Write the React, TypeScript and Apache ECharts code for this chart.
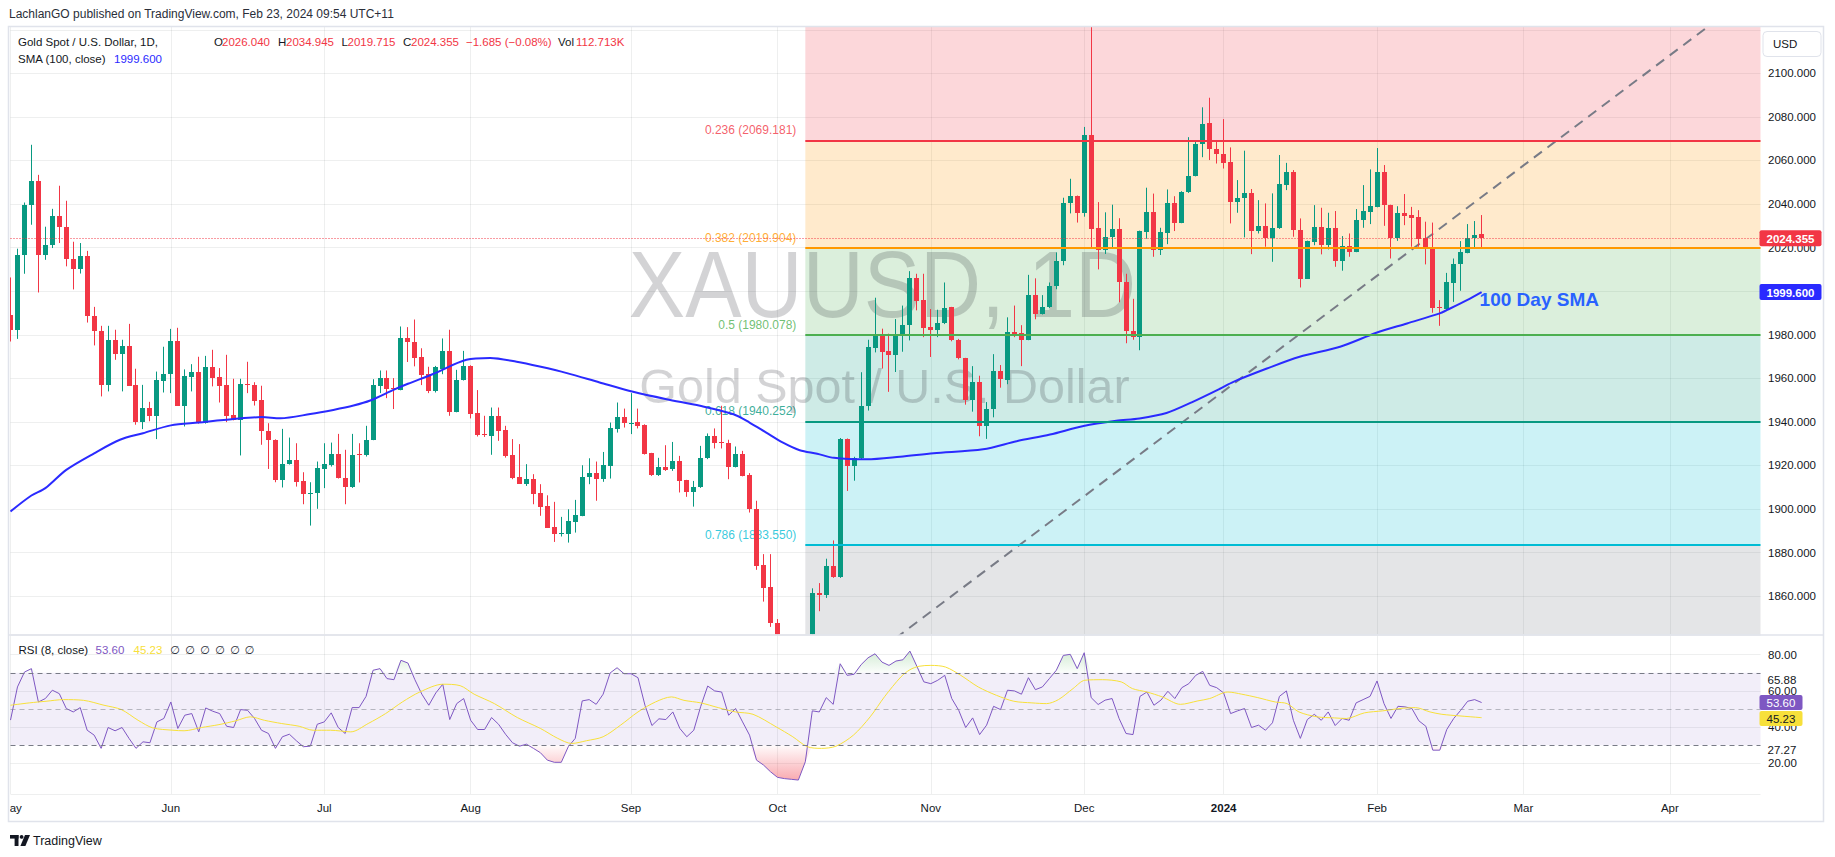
import React, { useEffect, useRef } from 'react';
import * as echarts from 'echarts';

// ---------------- data ----------------
const opens = [1989.2,1982.0,2016.4,2039.4,2050.7,2016.4,2021.0,2034.6,2029.6,2014.7,2010.4,2016.2,1988.7,1981.8,1957.0,1977.7,1971.1,1974.9,1957.0,1939.9,1946.6,1942.5,1959.0,1961.9,1977.2,1947.5,1960.8,1963.1,1939.4,1965.3,1960.4,1957.0,1943.2,1940.9,1957.6,1957.0,1950.1,1935.9,1931.8,1913.1,1920.6,1922.6,1912.9,1907.0,1907.3,1918.5,1920.3,1925.3,1914.2,1909.9,1925.1,1924.6,1931.8,1956.7,1960.1,1955.5,1954.7,1978.4,1976.8,1969.6,1961.9,1954.3,1964.5,1972.6,1944.6,1959.2,1965.7,1944.0,1934.6,1933.6,1942.8,1936.2,1924.7,1914.5,1911.4,1913.7,1907.3,1901.5,1891.8,1888.6,1888.4,1894.1,1896.9,1914.8,1916.5,1913.7,1919.8,1936.7,1942.2,1939.4,1940.0,1938.6,1925.6,1915.5,1919.1,1918.3,1922.1,1913.2,1907.9,1909.9,1923.3,1933.3,1930.8,1930.5,1919.4,1925.2,1915.5,1900.2,1874.2,1864.0,1847.8,1828.0,1822.0,1821.0,1820.0,1835.0,1861.5,1860.4,1873.8,1868.6,1932.2,1919.6,1923.2,1947.5,1973.9,1980.5,1972.6,1970.8,1979.2,1984.4,2006.1,1995.9,1983.6,1982.1,1985.5,1992.6,1977.8,1969.2,1949.9,1958.2,1938.1,1945.7,1963.2,1959.3,1981.3,1980.8,1977.7,1998.2,1989.6,1992.7,2002.5,2013.8,2040.6,2043.7,2035.9,2071.5,2028.8,2018.9,2024.9,2028.4,2004.3,1981.7,1978.9,2027.3,2036.2,2018.9,2026.8,2040.4,2031.5,2045.6,2053.0,2067.7,2077.3,2065.1,2062.9,2059.1,2041.0,2043.0,2045.3,2027.7,2029.9,2024.2,2028.8,2048.9,2054.7,2028.3,2005.8,2022.7,2029.6,2021.1,2029.1,2013.9,2020.8,2018.1,2032.6,2036.5,2038.7,2054.7,2039.5,2024.5,2036.0,2035.1,2034.1,2024.2,2019.9,1992.6,1991.6,2003.8,2012.7,2017.6,2024.2,2026.04];
const highs = [2006.3,2019.5,2040.7,2067.2,2053.4,2029.6,2037.8,2048.4,2041.5,2022.7,2022.1,2018.5,1992.8,1984.1,1984.1,1982.3,1977.7,1985.0,1964.4,1957.0,1949.2,1963.1,1974.5,1982.7,1983.2,1964.1,1966.5,1969.9,1970.3,1973.1,1964.7,1970.8,1959.8,1959.8,1967.6,1958.2,1956.6,1939.4,1932.0,1936.8,1932.8,1930.2,1916.9,1912.3,1921.8,1930.2,1930.5,1934.5,1927.2,1934.5,1930.2,1938.2,1959.6,1963.6,1963.6,1960.1,1983.8,1983.5,1987.0,1973.8,1965.3,1965.7,1978.3,1982.3,1963.9,1972.6,1966.0,1954.6,1942.8,1946.6,1946.6,1938.2,1932.1,1929.8,1920.6,1916.0,1911.4,1906.3,1903.3,1896.4,1899.9,1904.2,1920.1,1923.3,1921.8,1926.2,1939.7,1948.9,1946.1,1953.2,1946.1,1938.9,1925.8,1923.5,1929.3,1930.8,1924.4,1913.4,1912.9,1929.0,1934.7,1937.0,1947.4,1931.8,1928.7,1926.7,1916.5,1903.8,1879.3,1879.3,1849.5,1830.0,1826.0,1826.0,1834.0,1863.6,1866.0,1877.2,1885.6,1932.6,1932.4,1924.0,1962.8,1977.7,1997.0,1982.8,1980.5,1987.2,1993.4,2009.2,2008.0,2008.0,1991.8,1991.5,2004.0,1992.8,1978.1,1969.4,1965.6,1961.2,1949.1,1971.1,1966.1,1988.0,1993.4,1984.4,2007.5,2005.9,1998.2,2004.0,2017.8,2042.9,2051.6,2043.9,2075.4,2135.0,2040.9,2036.2,2039.7,2033.5,2008.0,1996.5,2027.8,2047.5,2044.8,2029.1,2046.7,2043.6,2045.9,2070.7,2069.2,2084.4,2088.8,2069.4,2079.0,2066.0,2051.0,2064.5,2046.9,2041.8,2040.3,2044.9,2062.5,2058.9,2055.6,2033.4,2023.2,2039.5,2038.3,2036.0,2036.8,2025.3,2026.5,2037.7,2048.7,2055.9,2065.7,2057.9,2039.7,2039.0,2044.6,2038.7,2037.2,2031.9,2031.5,1995.9,2008.4,2015.0,2023.0,2030.8,2032.2,2034.945];
const lows = [1976.9,1978.1,2008.0,2030.5,1999.4,2014.4,2019.8,2022.1,2011.4,2000.8,2008.1,1985.6,1975.1,1951.7,1954.0,1968.5,1954.0,1956.5,1938.7,1936.7,1940.3,1932.1,1953.5,1953.2,1947.3,1937.9,1954.0,1939.2,1939.2,1956.3,1948.9,1939.9,1940.7,1924.6,1953.2,1947.5,1929.5,1918.4,1912.3,1909.9,1920.4,1910.3,1902.2,1892.4,1900.1,1909.6,1919.5,1914.0,1902.2,1909.7,1912.2,1924.1,1931.6,1953.2,1950.9,1945.9,1954.5,1967.5,1965.5,1956.9,1953.2,1953.5,1961.9,1942.8,1944.4,1959.0,1941.6,1933.3,1933.1,1924.9,1931.3,1923.6,1913.7,1911.5,1910.6,1902.2,1896.9,1891.3,1884.9,1887.4,1884.6,1889.2,1896.7,1911.4,1903.8,1912.5,1914.0,1935.1,1937.4,1934.4,1937.0,1925.0,1915.2,1915.2,1917.5,1917.5,1907.6,1905.6,1901.1,1909.7,1922.9,1927.8,1927.8,1913.7,1919.1,1915.0,1898.4,1872.1,1857.5,1845.9,1825.0,1815.0,1816.0,1813.0,1810.5,1832.0,1853.1,1859.2,1868.4,1868.4,1908.3,1913.0,1922.8,1945.2,1971.9,1964.5,1953.8,1962.9,1972.2,1977.4,1991.2,1978.9,1969.8,1978.9,1984.9,1977.0,1968.7,1947.9,1944.7,1933.4,1932.2,1942.1,1955.7,1957.3,1978.9,1965.6,1977.5,1987.1,1989.3,1992.3,2000.9,2011.9,2035.7,2031.5,2034.2,2020.0,2010.0,2017.1,2020.0,1994.9,1976.1,1977.7,1972.9,2024.1,2015.8,2016.6,2021.6,2027.6,2031.2,2045.1,2052.7,2061.5,2060.2,2058.6,2056.3,2031.1,2036.0,2024.7,2017.0,2026.5,2020.4,2013.5,2028.6,2046.4,2025.0,2001.7,2005.6,2021.1,2016.9,2019.2,2011.2,2009.4,2015.8,2017.9,2029.1,2030.8,2038.5,2030.0,2015.0,2023.1,2030.3,2020.4,2020.4,2012.3,1990.1,1984.1,1990.8,1995.1,2000.2,2017.4,2019.9,2019.715];
const closes = [1982.0,2016.7,2039.7,2050.7,2016.4,2021.3,2034.6,2029.3,2014.6,2010.4,2016.2,1988.4,1981.5,1957.0,1977.7,1971.1,1974.9,1956.7,1939.9,1946.6,1942.5,1959.3,1962.1,1977.2,1947.5,1961.2,1963.1,1939.4,1965.3,1960.1,1956.7,1942.9,1940.9,1957.5,1957.3,1949.8,1935.6,1931.5,1913.1,1920.7,1922.6,1912.6,1906.8,1907.3,1918.8,1920.7,1925.3,1914.2,1909.9,1924.9,1924.7,1931.8,1957.0,1960.1,1955.0,1955.2,1978.4,1976.5,1969.3,1961.4,1954.0,1965.0,1972.6,1944.6,1959.2,1965.7,1943.8,1934.1,1934.0,1942.8,1935.9,1924.4,1914.2,1911.7,1913.7,1906.8,1901.0,1891.5,1888.4,1889.0,1894.3,1897.3,1914.9,1916.5,1913.7,1920.1,1937.1,1942.2,1939.4,1939.7,1938.2,1925.2,1915.5,1919.1,1918.0,1922.1,1912.9,1907.9,1910.3,1923.6,1933.6,1930.5,1930.2,1919.4,1925.2,1915.2,1899.9,1873.9,1863.7,1847.6,1828.0,1822.0,1821.0,1820.0,1832.0,1861.5,1860.4,1873.8,1868.6,1932.2,1919.6,1923.2,1947.5,1974.2,1980.5,1972.3,1970.8,1979.7,1984.4,2006.1,1995.7,1983.3,1982.1,1985.5,1992.3,1977.7,1969.2,1949.9,1958.2,1938.1,1946.0,1963.2,1959.8,1981.3,1980.2,1977.7,1998.2,1989.6,1992.7,2002.5,2013.8,2040.6,2043.7,2035.9,2071.5,2028.4,2018.9,2024.9,2028.4,2004.0,1981.6,1978.9,2027.6,2036.2,2018.9,2027.3,2040.4,2031.5,2045.6,2053.0,2067.6,2076.9,2065.1,2062.8,2058.9,2041.0,2043.0,2045.3,2027.7,2029.9,2024.2,2028.8,2049.1,2054.7,2028.3,2005.8,2023.0,2029.6,2021.1,2029.1,2013.9,2020.8,2018.1,2032.6,2036.8,2039.0,2054.7,2039.5,2024.5,2036.0,2034.5,2033.8,2024.0,2019.6,1992.4,1992.2,2004.0,2012.7,2017.8,2024.2,2025.7,2024.355];

// SMA(100) read at [bar index, value]
const smaPoints = [[0,1898.9],[3,1906.2],[5,1909.6],[8,1918.0],[12,1925.6],[15.7,1931.8],[19,1934.8],[23,1938.4],[27,1939.7],[32,1941.3],[36,1942.2],[38.7,1941.7],[43,1943.6],[46.3,1945.5],[49.2,1947.5],[51.6,1949.8],[55,1954.8],[57,1957.5],[60.6,1962.0],[65.4,1968.5],[68.8,1969.3],[72.6,1967.6],[75.9,1965.4],[79.8,1962.4],[84.5,1958.1],[89.3,1953.8],[94.1,1950.4],[98.9,1947.4],[103.7,1943.5],[106,1939.7],[108.4,1935.1],[110.8,1930.5],[113.2,1927.0],[115.7,1925.4],[118.1,1923.5],[122.8,1922.8],[127.6,1924.0],[132.4,1925.6],[139.5,1927.4],[144.3,1931.1],[149.1,1934.2],[153.9,1938.1],[158.6,1940.5],[161.9,1941.6],[165.8,1944.1],[169.5,1949.1],[173.4,1955.1],[175.4,1958.4],[180.2,1964.5],[184.9,1969.9],[190.7,1974.5],[195.9,1980.9],[200.3,1985.2],[205,1989.8],[206,1991.3],[208.9,1995.9],[211,1999.6]];

const rsiValues = [43.9,62.2,70.4,72.3,53.9,55.8,60.4,58.5,50.3,48.4,50.8,38.3,35.6,28.3,39.8,38.0,39.8,33.8,28.3,31.9,31.4,42.9,44.8,53.9,39.3,46.6,47.5,37.4,50.6,48.8,47.5,40.5,39.8,49.7,49.3,44.8,38.3,36.5,28.3,34.7,36.1,32.5,29.2,29.5,41.6,42.9,47.9,39.8,36.5,50.8,50.8,57.0,71.4,72.3,66.8,66.2,76.9,75.4,66.2,58.2,52.1,58.9,63.7,44.2,53.0,55.8,43.8,38.7,38.7,45.3,41.6,36.1,31.4,29.5,30.6,28.3,25.9,21.8,20.6,20.6,29.2,33.8,54.5,55.2,52.6,58.2,69.9,72.8,69.5,69.5,67.3,52.1,40.9,44.6,44.2,48.4,39.3,34.7,38.3,51.5,62.7,60.0,59.4,46.6,50.3,42.9,35.6,21.8,19.1,15.4,12.3,11.6,11.2,10.8,20.9,49.0,48.4,56.3,52.6,75.0,68.6,69.2,74.5,78.3,80.5,75.9,74.1,76.5,77.2,82.0,73.6,65.0,64.0,65.9,68.6,55.8,49.3,39.8,45.1,35.9,41.1,51.5,49.7,60.4,60.0,58.2,67.3,60.7,62.2,66.8,71.4,79.6,80.2,72.3,81.1,56.3,52.5,54.9,55.8,44.8,36.5,35.9,57.0,59.4,52.1,54.9,59.8,55.8,61.8,64.0,68.6,70.8,63.1,61.8,58.9,47.5,49.0,50.3,39.8,41.1,38.3,42.4,57.0,60.0,43.8,33.8,44.2,47.1,43.8,48.4,40.9,44.8,43.8,53.4,55.2,57.0,65.5,53.0,44.8,51.5,51.2,50.3,43.5,40.5,27.3,27.3,38.7,44.8,49.3,54.3,55.2,53.6];

// RSI-based MA read at [bar index, value]
const rsiMaPoints = [[0,52.1],[2.7,53.4],[5.1,54.3],[7.6,55.2],[10.5,54.8],[13.4,52.1],[15.9,49.7],[18.3,43.8],[20.4,39.6],[23.3,38.3],[24.9,38.0],[27.4,39.8],[29.9,41.4],[32.3,43.5],[34.4,45.7],[36.4,43.8],[38.9,42.0],[41.4,40.5],[43.4,38.3],[45.9,38.3],[48.8,37.4],[51.3,42.0],[53.8,47.5],[56.2,53.9],[58.7,59.4],[62,63.7],[64.5,62.9],[66.5,58.2],[69.4,53.0],[72.7,45.3],[76,39.3],[78.5,33.8],[80.5,31.0],[82.6,32.5],[85,34.7],[87.5,41.1],[90,48.4],[92.5,53.9],[94.8,56.7],[96.6,54.8],[99,53.4],[101.5,50.8],[104,48.4],[106.5,47.1],[109.8,40.2],[112.2,34.7],[114.3,29.2],[116.3,28.3],[118.4,29.5],[120.9,35.6],[123.3,45.7],[125.4,57.0],[127.7,67.7],[129,71.7],[130.3,73.6],[132,74.1],[134.1,73.2],[136.3,68.6],[138.8,62.2],[141.4,57.6],[143.9,54.3],[146.5,53.4],[148.6,53.0],[150.3,55.2],[152.4,61.3],[154.1,65.9],[156.6,66.2],[159.3,65.0],[160.9,61.3],[163,59.4],[165.2,56.7],[167.8,52.6],[170.3,54.5],[172,55.8],[174.6,59.4],[176.6,58.2],[178.9,56.3],[181.4,53.9],[183.1,53.0],[184.8,48.4],[187.4,45.7],[189.9,45.1],[191.6,44.8],[194.2,47.9],[196.8,49.0],[199.3,50.3],[201.5,50.8],[203.6,48.4],[205.3,47.1],[207.9,46.2],[210.8,45.3],[211,45.23]];

const fibRatios = [0.236, 0.382, 0.5, 0.618, 0.786];
const fibPrices = [2069.181, 2019.904, 1980.078, 1940.252, 1883.55];
const fibTopPrice = 2148.83;     // level 0
const fibBottomPrice = 1811.32;  // level 1
const fibStartBar = 114;
const trendAnchors = [[125, 1836.0], [250, 2137.2]];
const lastPrice = 2024.355;
const smaLast = 1999.6;
const rsiLast = 53.6;
const rsiMaLast = 45.23;
const rsiExtraLabels = [65.88, 27.27];
const holidays = ['2023-12-25', '2024-01-01'];
const rsiBands = [70, 50, 30];

// ---------------- styling ----------------
const FONT = "'Liberation Sans', Arial, sans-serif";
const TEXT = '#131722';
const GRID = 'rgba(42,46,57,0.08)';
const UP = '#089981';
const DOWN = '#f23645';
const SMA_COLOR = '#2a2aff';
const RSI_COLOR = '#7e57c2';
const RSI_MA_COLOR = '#f7e03a';
const FIB_COLORS = ['#f23645', '#ff9800', '#4caf50', '#089981', '#00bcd4', '#787b86'];
const Y_MIN = 1842.5, Y_MAX = 2121.5;
const R_MIN = 3.1, R_MAX = 90.6;
const X_MAX = 251;
const MONTHS = ['Jan','Feb','Mar','Apr','May','Jun','Jul','Aug','Sep','Oct','Nov','Dec'];

function buildTradingDays(start: string, count: number, skip: string[]): string[] {
  const out: string[] = [];
  const d = new Date(start + 'T00:00:00Z');
  while (out.length < count) {
    const dow = d.getUTCDay();
    const s = d.toISOString().slice(0, 10);
    if (dow !== 0 && dow !== 6 && skip.indexOf(s) < 0) out.push(s);
    d.setUTCDate(d.getUTCDate() + 1);
  }
  return out;
}

function hexA(hex: string, a: number) {
  const n = parseInt(hex.slice(1), 16);
  return `rgba(${(n >> 16) & 255},${(n >> 8) & 255},${n & 255},${a})`;
}

function txt(x: number, y: number, text: string, fill: string, size: number, extra: any = {}) {
  return {
    type: 'text', x, y, z: 50, silent: true,
    style: {
      text, fill, fontSize: size, fontFamily: FONT,
      align: 'left', verticalAlign: 'middle', textAlign: 'left', textVerticalAlign: 'middle',
      ...extra,
    },
  };
}

export default function App() {
  const ref = useRef<HTMLDivElement>(null);

  useEffect(() => {
    if (!ref.current) return;
    const chart = echarts.init(ref.current, null, { renderer: 'svg' });

    const dates = buildTradingDays('2023-05-01', X_MAX + 1, holidays);
    const axisLabelMap: Record<string, string> = {};
    const monthStart = new Set<number>();
    dates.forEach((s, i) => {
      const m = s.slice(5, 7);
      if (i === 0 || m !== dates[i - 1].slice(5, 7)) {
        monthStart.add(i);
        // the first month label is drawn separately (it is cut by the pane edge)
        axisLabelMap[s] = i === 0 ? '' : m === '01' ? '{b|' + s.slice(0, 4) + '}' : MONTHS[+m - 1];
      }
    });
    const firstMonthLabel = MONTHS[+dates[0].slice(5, 7) - 1];

    const candleData = opens.map((o, i) => [i, o, closes[i], lows[i], highs[i]]);

    const clampY = (v: number) => Math.max(Y_MIN, Math.min(Y_MAX, v));
    const levels = [fibTopPrice, ...fibPrices, fibBottomPrice];
    const zones = FIB_COLORS.map((c, k) => [
      { xAxis: fibStartBar, yAxis: clampY(levels[k]), itemStyle: { color: hexA(c, 0.2) } },
      { xAxis: X_MAX, yAxis: clampY(levels[k + 1]) },
    ]);
    const fibLines = fibPrices.map((p, k) => [
      { coord: [fibStartBar, p], lineStyle: { color: FIB_COLORS[k], width: 2, type: 'solid' } },
      { coord: [X_MAX, p] },
    ]);

    const catAxisBase = {
      type: 'category', data: dates, boundaryGap: false,
      axisLine: { show: false }, axisTick: { show: false },
      splitLine: { show: true, interval: (i: number) => monthStart.has(i), lineStyle: { color: GRID, width: 1 } },
    };

    const renderCandle = (params: any, api: any) => {
      const i = api.value(0);
      const o = api.value(1), c = api.value(2), l = api.value(3), h = api.value(4);
      const pO = api.coord([i, o]);
      const pC = api.coord([i, c]);
      const pL = api.coord([i, l]);
      const pH = api.coord([i, h]);
      const color = c >= o ? UP : DOWN;
      const xi = Math.floor(pO[0]);
      const top = Math.round(Math.min(pO[1], pC[1]));
      const bot = Math.round(Math.max(pO[1], pC[1]));
      return {
        type: 'group',
        children: [
          { type: 'line', shape: { x1: xi + 0.5, y1: pH[1], x2: xi + 0.5, y2: pL[1] }, style: { stroke: color, lineWidth: 1 } },
          { type: 'rect', shape: { x: xi - 2, y: top, width: 5, height: Math.max(bot - top, 1) }, style: { fill: color } },
        ],
      };
    };

    const option: any = {
      animation: false,
      backgroundColor: '#ffffff',
      textStyle: { fontFamily: FONT },
      grid: [
        { left: 10.5, right: 74.5, top: 26.5, height: 607.8 },
        { left: 10.5, right: 74.5, top: 635.5, height: 158.5 },
      ],
      xAxis: [
        { ...catAxisBase, gridIndex: 0, axisLabel: { show: false } },
        { type: 'value', gridIndex: 0, min: 0, max: X_MAX, show: false },
        {
          ...catAxisBase, gridIndex: 1,
          axisLabel: {
            show: true, interval: (i: number) => monthStart.has(i),
            formatter: (v: string) => axisLabelMap[v] || '',
            color: TEXT, fontSize: 11.5, margin: 8,
            rich: { b: { fontWeight: 'bold', fontSize: 11.5, color: TEXT, fontFamily: FONT } },
          },
        },
        { type: 'value', gridIndex: 1, min: 0, max: X_MAX, show: false },
      ],
      yAxis: [
        {
          type: 'value', gridIndex: 0, position: 'right', min: Y_MIN, max: Y_MAX, splitNumber: 14,
          axisLine: { show: false }, axisTick: { show: false },
          axisLabel: { color: TEXT, fontSize: 11.5, margin: 7.5, showMinLabel: false, showMaxLabel: false, formatter: (v: number) => v.toFixed(3) },
          splitLine: { lineStyle: { color: GRID, width: 1 } },
        },
        {
          type: 'value', gridIndex: 1, position: 'right', min: R_MIN, max: R_MAX, splitNumber: 4,
          axisLine: { show: false }, axisTick: { show: false },
          axisLabel: { color: TEXT, fontSize: 11.5, margin: 7.5, showMinLabel: false, showMaxLabel: false, formatter: (v: number) => v.toFixed(2) },
          splitLine: { lineStyle: { color: GRID, width: 1 } },
        },
      ],
      series: [
        {
          type: 'scatter', name: 'fib', xAxisIndex: 1, yAxisIndex: 0, z: 1, silent: true,
          symbolSize: 1, itemStyle: { color: 'rgba(0,0,0,0)' },
          data: fibPrices.map((p, k) => ({ value: [fibStartBar, p], label: { color: FIB_COLORS[k] } })),
          label: {
            show: true, position: 'left', distance: 8.5, offset: [0, -10], fontSize: 12, fontFamily: FONT,
            formatter: (p: any) => `${fibRatios[p.dataIndex]} (${fibPrices[p.dataIndex].toFixed(3)})`,
          },
          markArea: { silent: true, data: zones },
          markLine: { silent: true, symbol: ['none', 'none'], label: { show: false }, data: fibLines },
        },
        {
          type: 'line', name: 'trend', xAxisIndex: 1, yAxisIndex: 0, z: 1.8, silent: true,
          data: trendAnchors, symbol: 'none',
          lineStyle: { color: '#787b86', width: 2, type: [10, 7] },
        },
        {
          type: 'custom', name: 'XAUUSD', xAxisIndex: 0, yAxisIndex: 0, z: 2, silent: true, clip: true,
          data: candleData,
          encode: { x: 0, y: [1, 2, 3, 4] },
          renderItem: renderCandle,
          markLine: {
            silent: true, symbol: ['none', 'none'], label: { show: false },
            lineStyle: { color: DOWN, width: 1, type: [1, 2] },
            data: [{ yAxis: lastPrice }],
          },
        },
        {
          type: 'line', name: 'SMA', xAxisIndex: 1, yAxisIndex: 0, z: 3, silent: true,
          data: smaPoints, smooth: 0.3, symbol: 'none',
          lineStyle: { color: SMA_COLOR, width: 2 },
        },
        // RSI pane
        {
          type: 'line', name: 'obFill', xAxisIndex: 2, yAxisIndex: 1, z: 2, silent: true,
          data: rsiValues.map(v => Math.max(v, 70)), symbol: 'none',
          lineStyle: { width: 0, opacity: 0 },
          areaStyle: {
            origin: 70,
            color: new echarts.graphic.LinearGradient(0, 0, 0, 1, [
              { offset: 0, color: 'rgba(76,175,80,0.35)' },
              { offset: 1, color: 'rgba(76,175,80,0.03)' },
            ]),
          },
        },
        {
          type: 'line', name: 'osFill', xAxisIndex: 2, yAxisIndex: 1, z: 2, silent: true,
          data: rsiValues.map(v => Math.min(v, 30)), symbol: 'none',
          lineStyle: { width: 0, opacity: 0 },
          areaStyle: {
            origin: 30,
            color: new echarts.graphic.LinearGradient(0, 0, 0, 1, [
              { offset: 0, color: 'rgba(242,54,69,0.03)' },
              { offset: 1, color: 'rgba(242,54,69,0.6)' },
            ]),
          },
        },
        {
          type: 'line', name: 'RSI', xAxisIndex: 2, yAxisIndex: 1, z: 3, silent: true,
          data: rsiValues, symbol: 'none',
          lineStyle: { color: RSI_COLOR, width: 1 },
          markArea: { silent: true, itemStyle: { color: 'rgba(126,87,194,0.1)' }, data: [[{ yAxis: 30 }, { yAxis: 70 }]] },
          markLine: {
            silent: true, symbol: ['none', 'none'], label: { show: false },
            data: rsiBands.map(b => ({ yAxis: b, lineStyle: { color: '#787b86', width: 1, type: [5, 4], opacity: b === 50 ? 0.5 : 1 } })),
          },
        },
        {
          type: 'line', name: 'RSI MA', xAxisIndex: 3, yAxisIndex: 1, z: 3, silent: true,
          data: rsiMaPoints, smooth: 0.3, symbol: 'none',
          lineStyle: { color: RSI_MA_COLOR, width: 1 },
        },
      ],
    };

    chart.setOption(option);

    const py = (v: number, yAxisIndex: number) => chart.convertToPixel({ yAxisIndex } as any, v) as unknown as number;
    const smaEnd = chart.convertToPixel({ xAxisIndex: 1, yAxisIndex: 0 } as any, [smaPoints[smaPoints.length - 1][0], smaLast]) as unknown as number[];
    const firstX = chart.convertToPixel({ xAxisIndex: 3 } as any, 0) as unknown as number;

    const tag = (y: number, text: string, bg: string, fg: string, w: number, h: number, bold: boolean) => [
      { type: 'rect', silent: true, shape: { x: 1759.5, y: y - h / 2, width: w, height: h, r: 2 }, style: { fill: bg } },
      txt(1766.5, y + 0.5, text, fg, 11.5, { fontWeight: bold ? 'bold' : 'normal' }),
    ].map((e: any) => ({ ...e, z: 56 }));

    const yRed = py(lastPrice, 0);
    const yBlue = py(smaLast, 0);
    const yPurple = py(rsiLast, 1);
    let yYellow = py(rsiMaLast, 1);
    if (yYellow - yPurple < 16) yYellow = yPurple + 16;

    const emptySet = (x: number) => {
      const t: any = txt(x, 650, '\u2205', '#2a2e39', 11.5);
      t.style.fontFamily = "'DejaVu Sans', " + FONT;
      return t;
    };

    const graphics: any[] = [
      // cover above the plot (overflow of the highest wick) and over the top price label
      { type: 'rect', z: 45, silent: true, shape: { x: 0, y: 0, width: 1835, height: 26 }, style: { fill: '#ffffff' } },
      { type: 'rect', z: 54, silent: true, shape: { x: 1761, y: 18, width: 62, height: 13.5 }, style: { fill: '#ffffff' } },
      // header
      txt(9, 13.5, 'LachlanGO published on TradingView.com, Feb 23, 2024 09:54 UTC+11', '#2a2e39', 12),
      // watermark
      {
        type: 'text', x: 882.5, y: 284, z: 1.5, silent: true, scaleX: 0.89,
        style: { text: 'XAUUSD, 1D', fill: 'rgba(19,23,34,0.19)', fontSize: 95, fontFamily: FONT, align: 'center', verticalAlign: 'middle', textAlign: 'center', textVerticalAlign: 'middle' },
      },
      {
        type: 'text', x: 884.5, y: 386, z: 1.5, silent: true, scaleX: 1.01,
        style: { text: 'Gold Spot / U.S. Dollar', fill: 'rgba(19,23,34,0.19)', fontSize: 48, fontFamily: FONT, align: 'center', verticalAlign: 'middle', textAlign: 'center', textVerticalAlign: 'middle' },
      },
      // legend line 1
      txt(18, 42, 'Gold Spot / U.S. Dollar, 1D,', TEXT, 11.5),
      txt(214, 42, 'O', TEXT, 11.5), txt(222, 42, '2026.040', DOWN, 11.5),
      txt(278, 42, 'H', TEXT, 11.5), txt(286, 42, '2034.945', DOWN, 11.5),
      txt(341.5, 42, 'L', TEXT, 11.5), txt(347.5, 42, '2019.715', DOWN, 11.5),
      txt(403, 42, 'C', TEXT, 11.5), txt(411, 42, '2024.355', DOWN, 11.5),
      txt(466, 42, '\u22121.685 (\u22120.08%)', DOWN, 11.5),
      txt(558, 42, 'Vol', TEXT, 11.5), txt(576, 42, '112.713K', DOWN, 11.5),
      // legend line 2
      txt(18, 59, 'SMA (100, close)', TEXT, 11.5),
      txt(114, 59, '1999.600', SMA_COLOR, 11.5),
      // RSI legend
      txt(18.5, 650, 'RSI (8, close)', TEXT, 11.5),
      txt(95.5, 650, '53.60', RSI_COLOR, 11.5),
      txt(133.5, 650, '45.23', RSI_MA_COLOR, 11.5),
      ...[170, 185, 200, 215, 230, 244.6].map(emptySet),
      // 100 Day SMA annotation
      txt(smaEnd[0] - 2, smaEnd[1] + 7, '100 Day SMA', '#2962ff', 19, { fontWeight: 'bold' }),
      // RSI extra axis values
      ...rsiExtraLabels.map(v => txt(1767.5, py(v, 1), v.toFixed(2), TEXT, 11.5)),
      // tags
      ...tag(yRed, lastPrice.toFixed(3), DOWN, '#ffffff', 62, 16, true),
      ...tag(yBlue, smaLast.toFixed(3), SMA_COLOR, '#ffffff', 62, 16, true),
      ...tag(yPurple, rsiLast.toFixed(2), RSI_COLOR, '#ffffff', 43, 15, false),
      ...tag(yYellow, rsiMaLast.toFixed(2), RSI_MA_COLOR, TEXT, 43, 15, false),
      // USD box
      { type: 'rect', z: 55, silent: true, shape: { x: 1763, y: 31.5, width: 58, height: 25, r: 4 }, style: { fill: '#ffffff', stroke: '#e0e3eb', lineWidth: 1 } },
      { ...txt(1773, 44, 'USD', TEXT, 11.5), z: 56 },
      // first month label, cut by the pane edge
      { ...txt(firstX + 0.5, 808, firstMonthLabel, TEXT, 11.5), style: { ...txt(0, 0, firstMonthLabel, TEXT, 11.5).style, align: 'center', textAlign: 'center' } },
      // pane separator
      { type: 'line', z: 57, silent: true, shape: { x1: 9, y1: 634.9, x2: 1823, y2: 634.9 }, style: { stroke: '#e0e3eb', lineWidth: 1.5 } },
      // left cover and frame
      { type: 'rect', z: 58, silent: true, shape: { x: 0, y: 796, width: 10, height: 25 }, style: { fill: '#ffffff' } },
      { type: 'rect', z: 60, silent: true, shape: { x: 8.5, y: 26.5, width: 1815, height: 795 }, style: { fill: 'none', stroke: '#e0e3eb', lineWidth: 1.5 } },
      // TradingView logo
      { type: 'rect', z: 50, silent: true, shape: { x: 10, y: 835, width: 8.5, height: 3.6 }, style: { fill: TEXT } },
      { type: 'rect', z: 50, silent: true, shape: { x: 14.6, y: 835, width: 3.9, height: 11 }, style: { fill: TEXT } },
      { type: 'circle', z: 50, silent: true, shape: { cx: 21.6, cy: 836.9, r: 1.9 }, style: { fill: TEXT } },
      { type: 'polygon', z: 50, silent: true, shape: { points: [[25, 835], [30, 835], [25.4, 846], [20.4, 846]] }, style: { fill: TEXT } },
      txt(33, 840.5, 'TradingView', TEXT, 12.5),
    ];

    chart.setOption({ graphic: graphics });

    return () => chart.dispose();
  }, []);

  return (
    <div
      ref={ref}
      style={{ position: 'fixed', left: 0, top: 0, width: 1835, height: 857, background: '#ffffff' }}
    />
  );
}
